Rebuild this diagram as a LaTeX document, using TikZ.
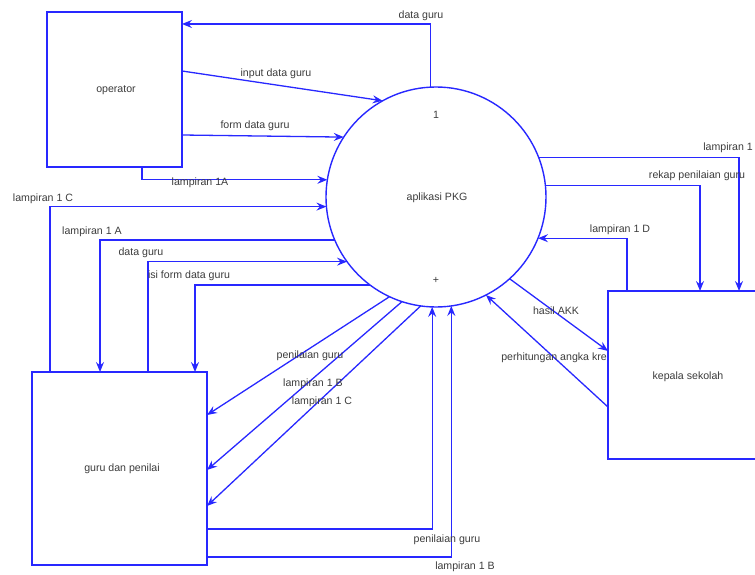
\documentclass[tikz,border=0pt]{standalone}
\usepackage{fontspec}
\setmainfont{Liberation Sans}
\usetikzlibrary{arrows.meta,calc}
\definecolor{flowblue}{RGB}{40,40,255}
\definecolor{txtgray}{RGB}{60,60,60}
\begin{document}
\begin{tikzpicture}[x=1pt,y=-1pt,
  font=\fontsize{10.6}{12}\selectfont,
  entity/.style={draw=flowblue,line width=1.4pt,fill=white,rectangle,inner sep=0,outer sep=0,text=txtgray},
  proc/.style={draw=flowblue,line width=1.4pt,fill=white,circle,inner sep=0,outer sep=0,minimum size=220pt,text=txtgray},
  flow/.style={draw=flowblue,line width=1.3pt,-{Stealth[length=10pt,width=8pt,inset=3.5pt]}},
  lbl/.style={text=txtgray,inner sep=0pt}]
\useasboundingbox (0,0) rectangle (755,575);
\clip (0,0) rectangle (755,575);
% entities
\node[entity,minimum width=135pt,minimum height=155pt] (operator) at (114.5,89.5) {};
\node[lbl] (toper) at (116,90) {operator};
\node[entity,minimum width=175pt,minimum height=193pt] (guru) at (119.5,468.5) {};
\node[lbl] (tguru) at (122,469) {guru dan penilai};
\node[entity,minimum width=162pt,minimum height=168pt] (kepala) at (689,375) {};
\node[lbl] (tkep) at (688,377) {kepala sekolah};
\node[proc] (pkg) at (436,197) {};
\node[lbl] (tone) at (436,115) {1};
\node[lbl] (tpkg) at (437,198) {aplikasi PKG};
\node[lbl] (tplus) at (436,280) {+};
% operator flows
\draw[flow] (pkg.93.6) |- ($(operator.north east)+(0,12)$);
\draw[flow] ($(operator.north east)+(0,59)$) -- (pkg.119.6);
\draw[flow] ($(operator.north east)+(0,123)$) -- (pkg.147.4);
\draw[flow] ($(operator.south west)+(95,0)$) |- (pkg.171.8);
% guru flows
\draw[flow] ($(guru.north west)+(18,0)$) |- (pkg.185.7);
\draw[flow] (pkg.203) -| ($(guru.north west)+(68,0)$);
\draw[flow] ($(guru.north west)+(116,0)$) |- (pkg.216.9);
\draw[flow] (pkg.233.1) -| ($(guru.north west)+(163,0)$);
\draw[flow] (pkg.245.7) -- ($(guru.north east)+(0,43)$);
\draw[flow] (pkg.252.9) -- ($(guru.north east)+(0,98)$);
\draw[flow] (pkg.262.2) -- ($(guru.north east)+(0,134)$);
\draw[flow] ($(guru.north east)+(0,157)$) -| (pkg.268.4);
\draw[flow] ($(guru.north east)+(0,185)$) -| (pkg.278.9);
% kepala flows
\draw[flow] (pkg.21.9) -| ($(kepala.north west)+(131,0)$);
\draw[flow] (pkg.6.8) -| ($(kepala.north west)+(92,0)$);
\draw[flow] ($(kepala.north west)+(19,0)$) |- (pkg.338.1);
\draw[flow] (pkg.312.8) -- ($(kepala.north west)+(0,60)$);
\draw[flow] ($(kepala.north west)+(0,116)$) -- (pkg.297.3);
% labels
\node[lbl] (l1) at (421,16) {data guru};
\node[lbl] (l2) at (276,74) {input data guru};
\node[lbl] (l3) at (255,126) {form data guru};
\node[lbl] (l4) at (200,183) {lampiran 1A};
\node[lbl] (l5) at (43,199) {lampiran 1 C};
\node[lbl] (l6) at (92,232) {lampiran 1 A};
\node[lbl] (l7) at (141,253) {data guru};
\node[lbl] (l8) at (189,276) {isi form data guru};
\node[lbl] (l9) at (310,356) {penilaian guru};
\node[lbl] (l10) at (313,384) {lampiran 1 B};
\node[lbl] (l11) at (322,402) {lampiran 1 C};
\node[lbl] (l12) at (447,540) {penilaian guru};
\node[lbl] (l13) at (465,567) {lampiran 1 B};
\node[lbl,anchor=east] (l14) at (753,148) {lampiran 1};
\node[lbl] (l15) at (697,176) {rekap penilaian guru};
\node[lbl] (l16) at (620,230) {lampiran 1 D};
\node[lbl] (l17) at (556,311) {hasil AKK};
\node[lbl,anchor=east] (l18) at (607,358) {perhitungan angka kre};
\end{tikzpicture}
\end{document}
